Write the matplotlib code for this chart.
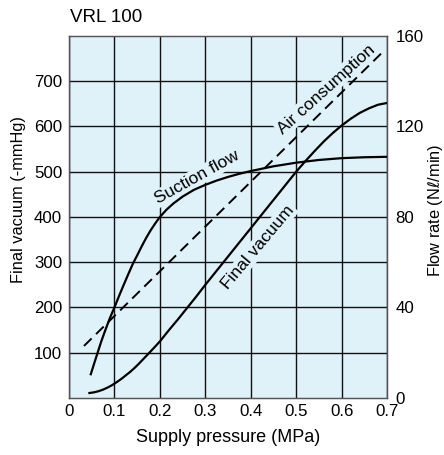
import matplotlib
matplotlib.use("Agg")
import matplotlib.pyplot as plt

plt.rcParams["font.family"] = ["Liberation Sans", "DejaVu Sans"]

# Final vacuum (-mmHg) vs supply pressure (MPa), left axis
vac_p = [0.045, 0.055, 0.065, 0.075, 0.085, 0.095, 0.105, 0.115, 0.125, 0.135,
         0.145, 0.155, 0.165, 0.175, 0.19, 0.2, 0.22, 0.24, 0.26, 0.28, 0.3,
         0.34, 0.38, 0.42, 0.46, 0.5, 0.52, 0.54, 0.56, 0.58, 0.6, 0.62,
         0.64, 0.66, 0.68, 0.7]
vac_val = [11, 12.5, 15, 18.5, 23, 28.5, 35, 42, 50, 58,
           67, 77, 87.5, 98, 114, 125, 150, 174, 199, 224, 250,
           300, 350, 400, 450, 500, 523, 545, 566, 585, 602, 617,
           630, 640, 648, 652]

# Suction flow (Nl/min), right axis
suc_p = [0.048, 0.055, 0.063, 0.071, 0.08, 0.09, 0.101, 0.11, 0.12, 0.13,
         0.141, 0.15, 0.16, 0.17, 0.18, 0.19, 0.2, 0.215, 0.23, 0.25, 0.275,
         0.3, 0.325, 0.35, 0.375, 0.4, 0.45, 0.5, 0.55, 0.6, 0.65, 0.7]
suc_val = [10.5, 15, 20, 25, 30, 35.3, 40.5, 45, 49.8, 54.5,
           59.5, 63, 67, 70.8, 74.2, 77.2, 80, 83.3, 86, 89, 92,
           94.2, 96.1, 97.7, 99.1, 100.3, 102.4, 104, 105.2, 106, 106.4, 106.6]

# Air consumption (Nl/min), right axis
air_p = [0.033, 0.696]
air_val = [23, 154]

bg = "#dff1f9"

fig = plt.figure(figsize=(4.44, 4.55), dpi=100)
ax = fig.add_axes([0.1554, 0.1253, 0.7162, 0.7956])
ax.set_facecolor(bg)
ax2 = ax.twinx()

ax.set_xlim(0, 0.7)
ax.set_ylim(0, 800)
ax2.set_ylim(0, 160)

ax.set_xticks([0, 0.1, 0.2, 0.3, 0.4, 0.5, 0.6, 0.7])
ax.set_xticklabels(["0", "0.1", "0.2", "0.3", "0.4", "0.5", "0.6", "0.7"])
ax.set_yticks([100, 200, 300, 400, 500, 600, 700])
ax2.set_yticks([0, 40, 80, 120, 160])

ax.grid(True, color="#111111", lw=1.0)
ax.tick_params(axis="both", length=0, labelsize=12.2)
ax.tick_params(axis="y", pad=5)
ax.tick_params(axis="x", pad=4)
ax2.tick_params(axis="y", length=0, labelsize=12.2, pad=6)

for a in (ax, ax2):
    for s in a.spines.values():
        s.set_color("#555555")
        s.set_linewidth(0.9)

ax.plot(vac_p, vac_val, color="black", lw=1.6, zorder=4)
ax2.plot(suc_p, suc_val, color="black", lw=1.6, zorder=4)
ax2.plot(air_p, air_val, color="black", lw=1.4, dashes=(5.5, 3.2), zorder=4)

box = dict(facecolor=bg, edgecolor="none", pad=1)
ax2.text(0.282, 97.6, "Suction flow", rotation=29, rotation_mode="anchor",
         ha="center", va="center", fontsize=12.5, bbox=box, zorder=3)
ax2.text(0.416, 66.8, "Final vacuum", rotation=50, rotation_mode="anchor",
         ha="center", va="center", fontsize=12.5, bbox=box, zorder=3)
ax2.text(0.566, 136.5, "Air consumption", rotation=42, rotation_mode="anchor",
         ha="center", va="center", fontsize=12.5, bbox=box, zorder=3)

fig.text(228 / 444, 1 - 438 / 455, "Supply pressure (MPa)", fontsize=13,
         ha="center", va="center")
fig.text(19 / 444, 1 - 200 / 455, "Final vacuum (-mmHg)", fontsize=11.8,
         rotation=90, ha="center", va="center")
fig.text(435 / 444, 1 - 210 / 455, r"Flow rate (N$\ell$/min)", fontsize=11.8,
         rotation=90, ha="center", va="center")
fig.text(0.157, 0.962, "VRL 100", fontsize=13.5, ha="left", va="center")

fig.savefig("out.png", dpi=100, facecolor="white")
